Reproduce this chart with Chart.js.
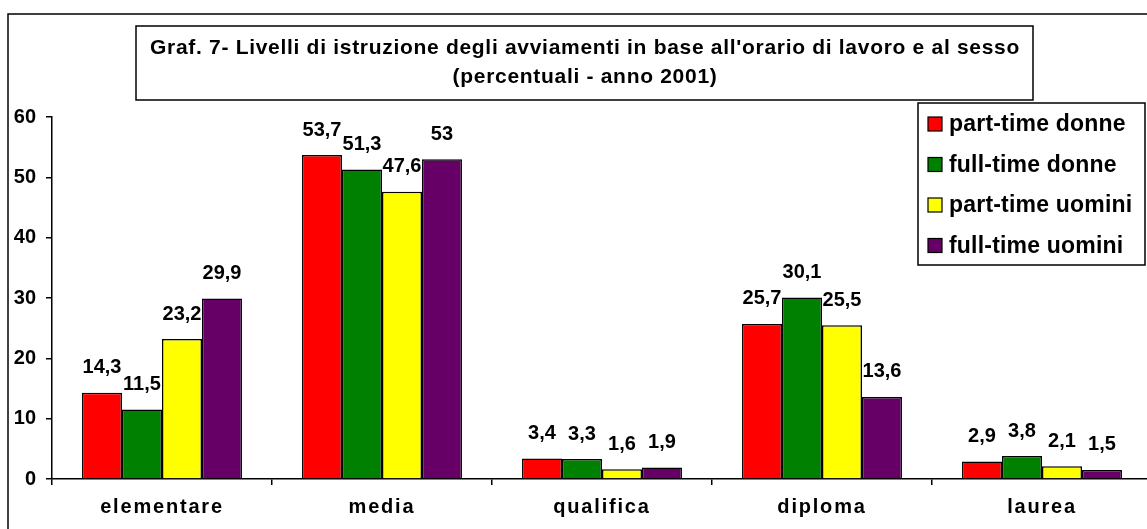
<!DOCTYPE html>
<html>
<head>
<meta charset="utf-8">
<script src="https://cdn.jsdelivr.net/npm/chart.js@4"></script>
<style>
    html, body { margin: 0; padding: 0; background: #fff; overflow: hidden; }
    #wrap { position: absolute; left: 0; top: 0; width: 1160px; height: 529px; }
</style>
</head>
<body>
<div id="wrap"><canvas id="istruzioneChart" width="1160" height="529"></canvas></div>
<script>
const categories = ['elementare', 'media', 'qualifica', 'diploma', 'laurea'];
const seriesNames = ['part-time donne', 'full-time donne', 'part-time uomini', 'full-time uomini'];
const partTimeDonne = [14.3, 53.7, 3.4, 25.7, 2.9];
const fullTimeDonne = [11.5, 51.3, 3.3, 30.1, 3.8];
const partTimeUomini = [23.2, 47.6, 1.6, 25.5, 2.1];
const fullTimeUomini = [29.9, 53, 1.9, 13.6, 1.5];
const yTicks = [0, 10, 20, 30, 40, 50, 60];
const titleLines = ["Graf. 7- Livelli di istruzione degli avviamenti in base all'orario di lavoro e al sesso", '(percentuali - anno 2001)'];

const colors = ['#ff0000', '#008000', '#ffff00', '#660066'];
const FONT = 'Arial, "Liberation Sans", sans-serif';

// cornici, titolo, etichette e legenda disegnati a mano
const excelLook = {
    id: 'excelLook',
    afterDatasetsDraw(chart) {
        const ctx = chart.ctx;
        ctx.save();
        ctx.font = 'bold 20px ' + FONT;
        ctx.fillStyle = '#000';
        ctx.textAlign = 'center';
        ctx.textBaseline = 'middle';
        chart.data.datasets.forEach((ds, i) => {
            chart.getDatasetMeta(i).data.forEach((bar, j) => {
                const txt = String(ds.data[j]).replace('.', ',');
                ctx.fillText(txt, bar.x, bar.y - 25);
            });
        });
        ctx.restore();
    },
    afterDraw(chart) {
        const ctx = chart.ctx;
        ctx.save();
        ctx.strokeStyle = '#000';
        ctx.lineWidth = 1.5;
        // cornice esterna
        ctx.strokeRect(8, 14, 1200, 600);

        // titolo
        ctx.fillStyle = '#fff';
        ctx.fillRect(136, 26, 897, 74);
        ctx.strokeRect(136, 26, 897, 74);
        ctx.fillStyle = '#000';
        ctx.letterSpacing = '0.7px';
        ctx.font = 'bold 21px ' + FONT;
        ctx.textAlign = 'center';
        ctx.textBaseline = 'middle';
        ctx.fillText(titleLines[0], 585, 48);
        ctx.fillText(titleLines[1], 585, 77);

        // legenda
        ctx.fillStyle = '#fff';
        ctx.fillRect(918, 103, 227, 162);
        ctx.strokeRect(918, 103, 227, 162);
        ctx.letterSpacing = '0.2px';
        ctx.font = 'bold 23px ' + FONT;
        ctx.textAlign = 'left';
        chart.data.datasets.forEach((ds, i) => {
            const y = 124 + i * 40.5;
            ctx.fillStyle = ds.backgroundColor;
            ctx.fillRect(928, y - 7, 14, 14);
            ctx.lineWidth = 1.2;
            ctx.strokeRect(928, y - 7, 14, 14);
            ctx.fillStyle = '#000';
            ctx.fillText(ds.label, 949, y + 1);
        });
        ctx.restore();
    }
};

const datasets = [partTimeDonne, fullTimeDonne, partTimeUomini, fullTimeUomini].map((vals, i) => ({
    label: seriesNames[i],
    data: vals,
    backgroundColor: colors[i],
    borderColor: '#000',
    borderWidth: 1.5,
    borderSkipped: 'bottom',
    categoryPercentage: 0.727,
    barPercentage: 1.0
}));

// etichette delle categorie con lettere spaziate
function spacedLabels(s) {
    if (s._spaced) return;
    const orig = s.drawLabels.bind(s);
    s.drawLabels = area => {
        const prev = s.ctx.letterSpacing;
        s.ctx.letterSpacing = '1.8px';
        orig(area);
        s.ctx.letterSpacing = prev;
    };
    s._spaced = true;
}

new Chart(document.getElementById('istruzioneChart'), {
    type: 'bar',
    data: { labels: categories, datasets: datasets },
    plugins: [excelLook],
    options: {
        responsive: false,
        animation: false,
        layout: { padding: { left: 0, right: 8, top: 117, bottom: 0 } },
        plugins: {
            legend: { display: false },
            title: { display: false },
            tooltip: { enabled: false }
        },
        scales: {
            x: {
                offset: true,
                afterFit: s => { s.height = 50; },
                afterUpdate: spacedLabels,
                grid: {
                    offset: true,
                    drawOnChartArea: false,
                    drawTicks: true,
                    tickLength: 6,
                    color: '#000',
                    lineWidth: 1.5
                },
                border: { display: true, color: '#000', width: 1.5 },
                ticks: {
                    color: '#000',
                    padding: 10,
                    font: { family: FONT, size: 20, weight: 'bold' }
                }
            },
            y: {
                min: 0,
                max: 60,
                afterFit: s => { s.width = 52; },
                afterBuildTicks: s => { s.ticks = yTicks.map(v => ({ value: v })); },
                grid: {
                    drawOnChartArea: false,
                    drawTicks: true,
                    tickLength: 6,
                    color: '#000',
                    lineWidth: 1.5
                },
                border: { display: true, color: '#000', width: 1.5 },
                ticks: {
                    color: '#000',
                    padding: 10,
                    font: { family: FONT, size: 20, weight: 'bold' }
                }
            }
        }
    }
});
</script>
</body>
</html>
